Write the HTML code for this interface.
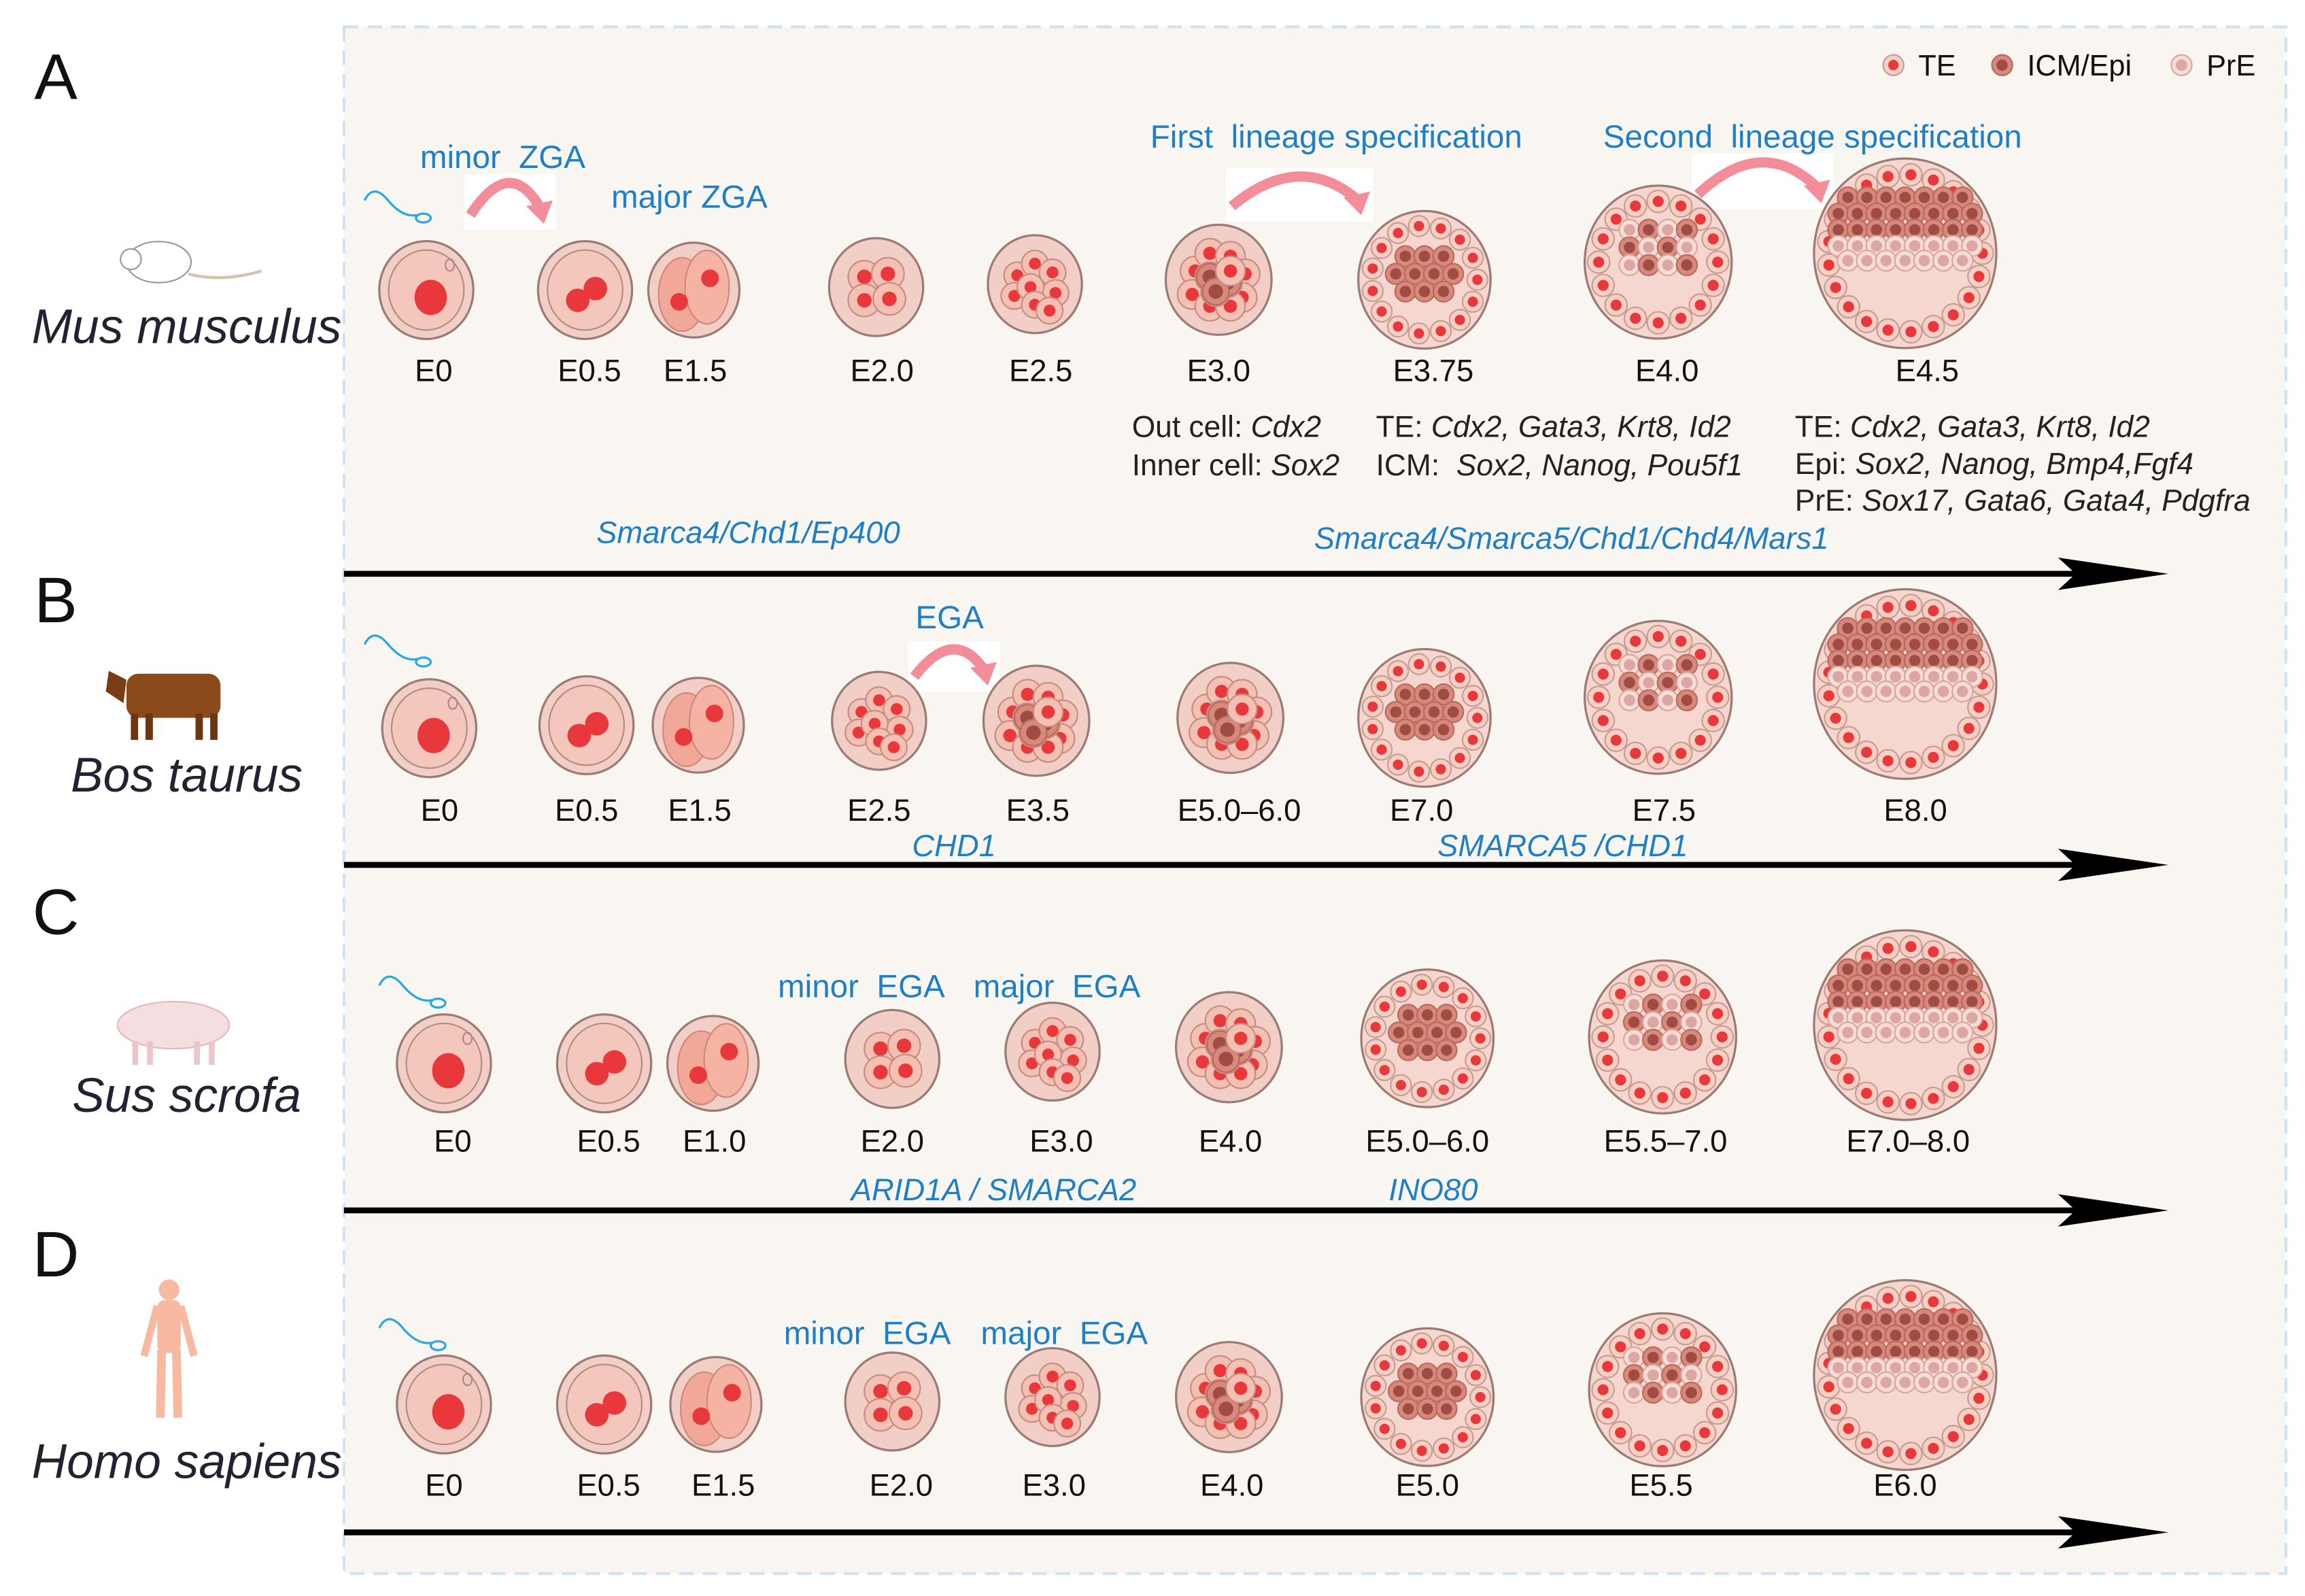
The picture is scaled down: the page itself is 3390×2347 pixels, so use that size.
<!DOCTYPE html>
<html><head><meta charset="utf-8"><style>
html,body{margin:0;padding:0;background:#fff}
svg{display:block}
text{font-family:"Liberation Sans",sans-serif}
</style></head><body>
<svg id="fig" width="3390" height="2347" viewBox="0 0 1568 1085" xmlns="http://www.w3.org/2000/svg">
<rect x="0" y="0" width="1568" height="1085" fill="#ffffff"/>
<rect x="234" y="18" width="1321" height="1052" fill="#f9f6f2" stroke="#cfe3f2" stroke-width="2" stroke-dasharray="10,6"/>
<g id="static"></g>
<g id="embryos"></g>
</svg>
<script>
const NS='http://www.w3.org/2000/svg';
const gS=document.getElementById('static');
const gE=document.getElementById('embryos');
function el(tag,attrs,parent){const e=document.createElementNS(NS,tag);for(const k in attrs)e.setAttribute(k,attrs[k]);(parent||gS).appendChild(e);return e;}
function txt(x,y,s,opt,parent){opt=opt||{};const t=el('text',{x:x,y:y,'font-size':opt.size||20,fill:opt.fill||'#111','text-anchor':opt.anchor||'middle','font-style':opt.italic?'italic':'normal'},parent);t.innerHTML=s;return t;}

const rowLabelY=[259,558,783,1017];
const arrowY=[390,588,823,1042];
const speciesNames=['Mus musculus','Bos taurus','Sus scrofa','Homo sapiens'];
const speciesY=[233,538,756,1005];
const panelLetters=['A','B','C','D'];
const panelLetterY=[67,423,635,868];
const stageLabels=[
 ['E0','E0.5','E1.5','E2.0','E2.5','E3.0','E3.75','E4.0','E4.5'],
 ['E0','E0.5','E1.5','E2.5','E3.5','E5.0–6.0','E7.0','E7.5','E8.0'],
 ['E0','E0.5','E1.0','E2.0','E3.0','E4.0','E5.0–6.0','E5.5–7.0','E7.0–8.0'],
 ['E0','E0.5','E1.5','E2.0','E3.0','E4.0','E5.0','E5.5','E6.0']];
const stageX=[
 [295,401,473,600,708,829,975,1134,1311],
 [299,399,476,598,706,843,967,1132,1303],
 [308,414,486,607,722,837,971,1133,1298],
 [302,414,492,613,717,838,971,1130,1296]];
const embX=[
 [290,398,472,596,704,829,969,1128,1296],
 [292,399,475,598,705,837,969,1128,1296],
 [302,411,485,607,716,836,971,1131,1296],
 [302,411,487,607,716,836,971,1131,1296]];
const stageTypes=[
 ['zyg','two','twoB','four','eight','mor','b1','b2','b3'],
 ['zyg','two','twoB','eight','mor','mor','b1','b2','b3'],
 ['zyg','two','twoB','four','eight','mor','b1','b2','b3'],
 ['zyg','two','twoB','four','eight','mor','b1','b2','b3']];
const embY=[
 [197,197,197,195,193,190,190,178,172],
 [495,493,493,490,490,488,488,474,465],
 [723,723,723,720,715,712,706,705,697],
 [955,955,955,953,950,950,950,945,935]];
const typeR={zyg:32,two:32,twoB:31,four:32,eight:32,mor:36,b1:45,b2:50,b3:62};

for(let i=0;i<4;i++){
 const l=txt(38,panelLetterY[i],panelLetters[i],{size:44});
 
 
 const s=txt(127,speciesY[i],speciesNames[i],{size:33,italic:true,fill:'#222230'});
 
 
 const ln=el('line',{x1:234,y1:arrowY[i],x2:1420,y2:arrowY[i],stroke:'#000','stroke-width':4});
 
 
 el('path',{d:`M1400 ${arrowY[i]-11} L1475 ${arrowY[i]} L1400 ${arrowY[i]+11} L1412 ${arrowY[i]} Z`,fill:'#000'});
 for(let j=0;j<9;j++){
  const t=txt(stageX[i][j],rowLabelY[i],stageLabels[i][j],{size:21});
  
  
 }
}

function zona(g,x,y,r,fill){el('ellipse',{cx:x,cy:y,rx:r,ry:r*1.04,fill:fill||'#f2cfc6',stroke:'#9b7b73','stroke-width':1.5},g);}
function cell(g,x,y,r,kind){
 if(kind==='te'){el('circle',{cx:x,cy:y,r:r,fill:'#f6d0c5',stroke:'#c79c92','stroke-width':1},g);el('circle',{cx:x,cy:y,r:r*0.5,fill:'#e8383b'},g);}
 else if(kind==='icm'){el('circle',{cx:x,cy:y,r:r,fill:'#d9897b',stroke:'#b86a5e','stroke-width':1},g);el('circle',{cx:x,cy:y,r:r*0.55,fill:'#9f4c44'},g);}
 else if(kind==='pre'){el('circle',{cx:x,cy:y,r:r,fill:'#f7dcd5',stroke:'#d8a79f','stroke-width':1},g);el('circle',{cx:x,cy:y,r:r*0.55,fill:'#dba6a3'},g);}
 else {el('circle',{cx:x,cy:y,r:r,fill:'#f3c0b3',stroke:'#c48e82','stroke-width':1},g);el('circle',{cx:x,cy:y,r:r*0.45,fill:'#e8383b'},g);}
}
function embryo(x,y,type){
 const g=el('g',{},gE);
 
 
 const r=typeR[type];
 if(type==='zyg'){zona(g,x,y,r);el('ellipse',{cx:x,cy:y,rx:r*0.8,ry:r*0.85,fill:'#f4c7bc',stroke:'#b58a80','stroke-width':1},g);el('ellipse',{cx:x+3,cy:y+5,rx:11,ry:12,fill:'#e8383b'},g);el('ellipse',{cx:x+16,cy:y-17,rx:3,ry:4,fill:'none',stroke:'#a88','stroke-width':1},g);}
 else if(type==='two'){zona(g,x,y,r);el('ellipse',{cx:x,cy:y,rx:r*0.8,ry:r*0.85,fill:'#f4c7bc',stroke:'#b58a80','stroke-width':1},g);el('circle',{cx:x-5,cy:y+7,r:8,fill:'#e8383b'},g);el('circle',{cx:x+7,cy:y-1,r:8,fill:'#e8383b'},g);}
 else if(type==='twoB'){zona(g,x,y,r);el('ellipse',{cx:x-8,cy:y+3,rx:16,ry:25,fill:'#f2a898',stroke:'#d08878','stroke-width':1},g);el('ellipse',{cx:x+9,cy:y-2,rx:15,ry:25,fill:'#f4b3a3',stroke:'#d08878','stroke-width':1},g);el('circle',{cx:x-10,cy:y+8,r:6,fill:'#e8383b'},g);el('circle',{cx:x+11,cy:y-8,r:6,fill:'#e8383b'},g);}
 else if(type==='four'){zona(g,x,y,r);[[-8,-7],[8,-9],[-8,9],[9,8]].forEach(p=>cell(g,x+p[0],y+p[1],11,'c'));}
 else if(type==='eight'){zona(g,x,y,r);[[-12,-6],[0,-14],[12,-8],[-14,8],[14,6],[-3,2],[0,14],[10,18]].forEach(p=>cell(g,x+p[0],y+p[1],9,'c'));}
 else if(type==='mor'){zona(g,x,y,r);[[-16,-6],[-6,-18],[8,-16],[18,-4],[-18,10],[16,12],[-6,18],[8,18],[-6,-2],[6,2],[-2,8]].forEach(p=>cell(g,x+p[0],y+p[1],10,'icm0'));
   [[-6,-2],[6,2],[-2,8]].forEach(p=>cell(g,x+p[0],y+p[1],9,'icm'));cell(g,x+8,y-6,10,'c');}
 else {
  zona(g,x,y,r,'#f5d7d0');
  const cr=type==='b1'?7:7.5;
  const n=Math.round(2*Math.PI*(r-cr-2)/(cr*2.1));
  for(let k=0;k<n;k++){const a=k/n*2*Math.PI;cell(g,x+(r-cr-2)*Math.cos(a),y+(r-cr-2)*Math.sin(a)*1.02,cr,'te');}
  const rows=type==='b1'?[[-16,3],[-4,4],[8,3]]:type==='b2'?[[-22,4],[-10,4],[2,4]]:[[-38,7],[-27,8],[-16,8],[-5,8],[5,7]];
  rows.forEach((rw,ri)=>{const dy=rw[0],cnt=rw[1];for(let c=0;c<cnt;c++){const dx=(c-(cnt-1)/2)*13;let kind='icm';
    if(type==='b2'&&(c+ri)%2===0)kind='pre';
    if(type==='b3'&&ri>=3)kind='pre';
    cell(g,x+dx,y+dy,7,kind);}});
 }
}
for(let i=0;i<4;i++)for(let j=0;j<9;j++)embryo(embX[i][j],embY[i][j],stageTypes[i][j]);

function pinkArrow(x1,x2,yb,h){const g=el('g',{});
 el('rect',{x:x1-4,y:yb-h-2,width:x2-x1+8,height:h+12,fill:'#fff'},g);
 el('path',{d:`M${x1} ${yb} Q${(x1+x2)/2} ${yb-h*1.6} ${x2-6} ${yb-4}`,fill:'none',stroke:'#f48d9a','stroke-width':7},g);
 el('path',{d:`M${x2-16} ${yb-6} L${x2+2} ${yb-10} L${x2-4} ${yb+6} Z`,fill:'#f48d9a'},g);}
pinkArrow(320,374,146,26);
pinkArrow(838,930,140,24);
pinkArrow(1155,1243,132,26);
pinkArrow(622,676,460,22);

const blue='#1f7fc6';
function bt(x,y,s,size,italic,anchor){const t=txt(x,y,s,{size:size||22,fill:blue,italic:italic,anchor:anchor||'middle'});return t;}
bt(342,114,'minor&#160;&#160;ZGA',22);
bt(469,141,'major ZGA',22);
bt(909,100,'First&#160;&#160;lineage specification',22);
bt(1233,100,'Second&#160;&#160;lineage specification',22);
bt(509,369,'Smarca4/Chd1/Ep400',21,true);
bt(1069,373,'Smarca4/Smarca5/Chd1/Chd4/Mars1',21,true);
bt(646,427,'EGA',22);
bt(649,582,'CHD1',21,true);
bt(1063,582,'SMARCA5 /CHD1',21,true);
bt(586,678,'minor&#160;&#160;EGA',22);
bt(719,678,'major&#160;&#160;EGA',22);
bt(676,816,'ARID1A / SMARCA2',21,true);
bt(975,816,'INO80',21,true);
bt(590,914,'minor&#160;&#160;EGA',22);
bt(724,914,'major&#160;&#160;EGA',22);

function gt(x,y,s){const t=txt(x,y,s,{size:20.5,anchor:'start',fill:'#222'});}
gt(770,297,'Out cell: <tspan font-style="italic">Cdx2</tspan>');
gt(770,323,'Inner cell: <tspan font-style="italic">Sox2</tspan>');
gt(936,297,'TE: <tspan font-style="italic">Cdx2, Gata3, Krt8, Id2</tspan>');
gt(936,323,'ICM:&#160; <tspan font-style="italic">Sox2, Nanog, Pou5f1</tspan>');
gt(1221,297,'TE: <tspan font-style="italic">Cdx2, Gata3, Krt8, Id2</tspan>');
gt(1221,322,'Epi: <tspan font-style="italic">Sox2, Nanog, Bmp4,Fgf4</tspan>');
gt(1221,347,'PrE: <tspan font-style="italic">Sox17, Gata6, Gata4, Pdgfra</tspan>');

const legK=['te','icm','pre'];const legT=['TE','ICM/Epi','PrE'];const legX=[1288,1362,1484];
for(let k=0;k<3;k++){const g=el('g',{});cell(g,legX[k],44,7,legK[k]);txt(legX[k]+17,51,legT[k],{size:20,anchor:'start'},g);}

const spX=[248,248,258,258],spY=[130,432,664,897];
for(let i=0;i<4;i++){const g=el('g',{});
 el('path',{d:`M${spX[i]} ${spY[i]+6} Q${spX[i]+6} ${spY[i]-6} ${spX[i]+16} ${spY[i]+6} T${spX[i]+36} ${spY[i]+16}`,fill:'none',stroke:'#2aa8e0','stroke-width':1.5},g);
 el('ellipse',{cx:spX[i]+40,cy:spY[i]+18,rx:5,ry:3,fill:'none',stroke:'#2aa8e0','stroke-width':1.5},g);}

(function(){
 let g=el('g',{});
 el('ellipse',{cx:108,cy:178,rx:22,ry:14,fill:'#fff',stroke:'#999','stroke-width':1},g);
 el('circle',{cx:89,cy:176,r:7,fill:'#fff',stroke:'#999','stroke-width':1},g);
 el('path',{d:'M128 186 Q150 192 178 184',fill:'none',stroke:'#d6c4a8','stroke-width':2},g);
 g=el('g',{});
 el('rect',{x:86,y:458,width:64,height:30,rx:8,fill:'#8b4a1c'},g);
 el('path',{d:'M86 462 L74 456 L72 470 L84 478 Z',fill:'#7a3c14'},g);
 [92,102,136,146].forEach(lx=>el('rect',{x:lx-3,y:485,width:5,height:18,fill:'#6e3512'},g));
 g=el('g',{});
 el('ellipse',{cx:118,cy:697,rx:38,ry:16,fill:'#f6dde0',stroke:'#e3b8bd','stroke-width':1},g);
 [92,102,134,144].forEach(lx=>el('rect',{x:lx-2,y:708,width:4,height:16,fill:'#eac6ca'},g));
 g=el('g',{});
 el('circle',{cx:115,cy:877,r:7,fill:'#f7b9a0'},g);
 el('rect',{x:107,y:884,width:16,height:36,rx:5,fill:'#f7b9a0'},g);
 el('path',{d:'M107 888 L98 922 M123 888 L132 922',stroke:'#f7b9a0','stroke-width':5},g);
 el('path',{d:'M110 918 L109 964 M120 918 L121 964',stroke:'#f7b9a0','stroke-width':6},g);
})();
</script>
</body></html>
